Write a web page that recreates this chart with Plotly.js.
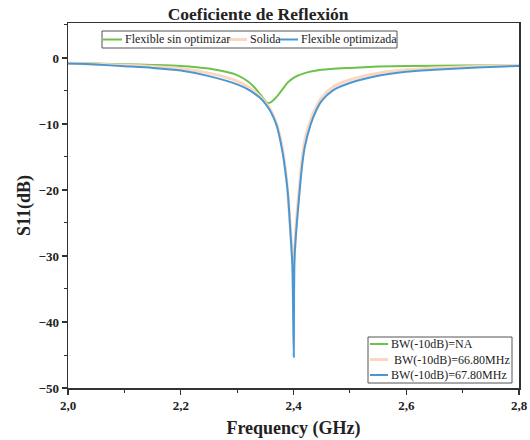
<!DOCTYPE html>
<html><head><meta charset="utf-8">
<script src="https://cdn.plot.ly/plotly-3.0.1.min.js"></script>
<style>body{margin:0;background:#fff}#g{width:530px;height:440px}</style>
</head><body><div id="g"></div>
<script>
// Frequency (GHz) and S11 (dB) values
const freqGreen = [2.0, 2.05, 2.1, 2.15, 2.2, 2.25, 2.28, 2.3, 2.32, 2.33, 2.34, 2.35, 2.355, 2.36, 2.37, 2.38, 2.39, 2.4, 2.42, 2.45, 2.5, 2.55, 2.6, 2.7, 2.8];
const s11Green = [-0.8, -0.85, -0.95, -1.05, -1.2, -1.6, -2.1, -2.6, -3.6, -4.4, -5.4, -6.5, -6.85, -6.7, -5.9, -4.8, -3.7, -3.0, -2.3, -1.8, -1.5, -1.3, -1.2, -1.15, -1.1];

const freqOrange = [2.0, 2.05, 2.1, 2.15, 2.2, 2.25, 2.3, 2.32, 2.34, 2.35, 2.36, 2.37, 2.38, 2.385, 2.39, 2.395, 2.398, 2.3995, 2.4005, 2.402, 2.405, 2.41, 2.415, 2.42, 2.43, 2.44, 2.45, 2.47, 2.5, 2.55, 2.6, 2.65, 2.7, 2.75, 2.8];
const s11Orange = [-0.8, -0.95, -1.1, -1.3, -1.6, -2.3, -3.5, -4.4, -5.8, -6.7, -8.0, -10.0, -13.5, -16.5, -20.5, -26.5, -30.0, -31.0, -31.0, -29.0, -25.0, -20.0, -15.5, -12.5, -9.5, -7.4, -6.0, -4.4, -3.3, -2.3, -1.8, -1.5, -1.35, -1.2, -1.1];

const freqBlue = [2.0, 2.05, 2.1, 2.15, 2.2, 2.25, 2.3, 2.32, 2.34, 2.35, 2.36, 2.37, 2.38, 2.385, 2.39, 2.395, 2.398, 2.3995, 2.4005, 2.401, 2.402, 2.405, 2.41, 2.415, 2.42, 2.43, 2.44, 2.45, 2.47, 2.5, 2.55, 2.6, 2.65, 2.7, 2.75, 2.8];
const s11Blue = [-0.85, -1.0, -1.25, -1.5, -1.9, -2.75, -4.0, -4.8, -6.0, -6.9, -8.2, -10.2, -14.0, -16.8, -20.5, -27.0, -31.5, -40.0, -45.3, -36.0, -30.0, -26.0, -21.0, -16.5, -13.5, -10.2, -8.0, -6.5, -4.9, -3.8, -2.7, -2.1, -1.8, -1.55, -1.35, -1.2];

const seriesNames = ['Flexible sin optimizar', 'Solida', 'Flexible optimizada'];
const bwLabels = ['BW(-10dB)=NA', ' BW(-10dB)=66.80MHz', 'BW(-10dB)=67.80MHz'];
const xTickVals = [2.0, 2.2, 2.4, 2.6, 2.8];
const xTickText = ['2,0', '2,2', '2,4', '2,6', '2,8'];
const yTickVals = [0, -10, -20, -30, -40, -50];
const yTickText = ['0', '\u221210', '\u221220', '\u221230', '\u221240', '\u221250'];

const colors = ['#6cc24a', '#fcd6bf', '#4a98d3'];
const widths = [2, 3, 2];

const xs = [freqGreen, freqOrange, freqBlue];
const ys = [s11Green, s11Orange, s11Blue];

const traces = [];
for (let i = 0; i < 3; i++) {
  traces.push({x: xs[i], y: ys[i], type: 'scatter', mode: 'lines', name: seriesNames[i],
    line: {color: colors[i], width: widths[i], shape: 'spline', smoothing: 0.7}, showlegend: false});
}

// Legend boxes drawn as layout decoration (paper coordinates)
const serif = 'Liberation Serif, Times New Roman, serif';
const W = 530, H = 440, mL = 68, mR = 11, mT = 23, mB = 52;
const pw = W - mL - mR, ph = H - mT - mB;
const px = x => (x - mL) / pw;
const py = y => (H - mB - y) / ph;

const shapes = [];
const annotations = [];
// Top legend
shapes.push({type: 'rect', xref: 'paper', yref: 'paper', x0: px(102), x1: px(397), y0: py(48), y1: py(31),
  line: {color: '#555', width: 1}, fillcolor: 'rgba(255,255,255,0)'});
const topSample = [[103, 122], [228, 247], [280, 298]];
for (let i = 0; i < 3; i++) {
  shapes.push({type: 'line', xref: 'paper', yref: 'paper', x0: px(topSample[i][0]), x1: px(topSample[i][1]),
    y0: py(39.5), y1: py(39.5), line: {color: colors[i], width: widths[i]}});
  annotations.push({xref: 'paper', yref: 'paper', x: px(topSample[i][1] + 1), y: py(39.5), xanchor: 'left', yanchor: 'middle',
    text: seriesNames[i], showarrow: false, font: {family: serif, size: 12, color: '#222'}});
}
// Bottom-right BW legend
shapes.push({type: 'rect', xref: 'paper', yref: 'paper', x0: px(368), x1: px(512), y0: py(383), y1: py(337),
  line: {color: '#555', width: 1}, fillcolor: '#fff'});
const bwY = [344, 359.5, 375];
for (let i = 0; i < 3; i++) {
  shapes.push({type: 'line', xref: 'paper', yref: 'paper', x0: px(370), x1: px(388),
    y0: py(bwY[i]), y1: py(bwY[i]), line: {color: colors[i], width: widths[i]}});
  annotations.push({xref: 'paper', yref: 'paper', x: px(389), y: py(bwY[i]), xanchor: 'left', yanchor: 'middle',
    text: bwLabels[i].replace(/^ /, '\u00a0'), showarrow: false, font: {family: serif, size: 12, color: '#222'}});
}

const layout = {
  width: W, height: H,
  margin: {l: mL, r: mR, t: mT, b: mB},
  paper_bgcolor: '#fff', plot_bgcolor: '#fff',
  font: {family: serif, color: '#222'},
  showlegend: false,
  title: {text: '<b>Coeficiente de Reflexión</b>', font: {family: serif, size: 17.5, color: '#222'},
    x: 0.487, xref: 'container', y: 0.968, yref: 'container', yanchor: 'middle'},
  xaxis: {
    range: [2.0, 2.8], tickmode: 'array', tickvals: xTickVals,
    ticktext: xTickText.map(t => '<b>' + t + '</b>'),
    showgrid: false, zeroline: false, showline: true, linecolor: '#333', linewidth: 1.5, mirror: true,
    ticks: 'outside', ticklen: 5, tickwidth: 1.2, tickcolor: '#333',
    minor: {tickmode: 'linear', tick0: 2.1, dtick: 0.2, ticks: 'outside', ticklen: 3, tickwidth: 1, tickcolor: '#333'},
    tickfont: {family: serif, size: 13, color: '#222'},
    title: {text: '<b>Frequency (GHz)</b>', font: {family: serif, size: 18, color: '#222'}, standoff: 9}
  },
  yaxis: {
    range: [-50, 5.3], tickmode: 'array', tickvals: yTickVals,
    ticktext: yTickText.map(t => '<b>' + t + '</b>'),
    showgrid: false, zeroline: false, showline: true, linecolor: '#333', linewidth: 1.5, mirror: true,
    ticks: 'outside', ticklen: 5, tickwidth: 1.2, tickcolor: '#333',
    minor: {tickmode: 'linear', tick0: -5, dtick: 10, ticks: 'outside', ticklen: 3, tickwidth: 1, tickcolor: '#333'},
    tickfont: {family: serif, size: 13, color: '#222'},
    title: {text: '<b>S11(dB)</b>', font: {family: serif, size: 18, color: '#222'}, standoff: 3}
  },
  shapes: shapes,
  annotations: annotations
};
Plotly.newPlot('g', traces, layout, {displayModeBar: false, staticPlot: true});
</script></body></html>
